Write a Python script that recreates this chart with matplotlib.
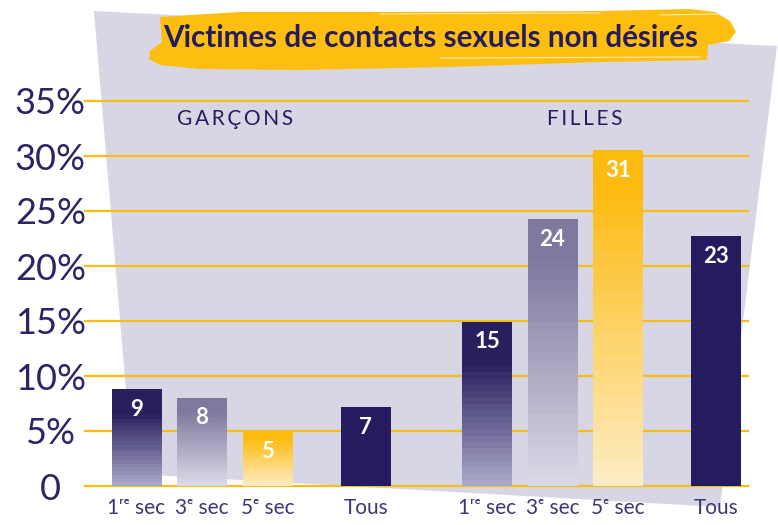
import numpy as np
import matplotlib
matplotlib.use("Agg")
import matplotlib.pyplot as plt
from matplotlib.patches import Polygon
from matplotlib.colors import to_rgb

plt.rcParams['font.family'] = ['Lato', 'DejaVu Sans']

# data
groups = ['GARÇONS', 'FILLES']
group_pos = [1.5, 6.85]
categories = ['1ʳᵉ sec', '3ᵉ sec', '5ᵉ sec', 'Tous',
              '1ʳᵉ sec', '3ᵉ sec', '5ᵉ sec', 'Tous']
positions = [0, 1, 2, 3.5, 5.35, 6.35, 7.35, 8.85]
values = [8.8, 8.0, 4.9, 7.1, 14.9, 24.2, 30.5, 22.7]
labels = ['9', '8', '5', '7', '15', '24', '31', '23']
yticks = [0, 5, 10, 15, 20, 25, 30, 35]
yticklabels = ['0', '5%', '10%', '15%', '20%', '25%', '30%', '35%']

navy = '#241C5E'
gold = '#F9BC10'
# (top colour, bottom colour, solid part at top)
styles = [('#271F5E', '#ADABCA', 0.25), ('#7E799F', '#DCDBE8', 0.15),
          ('#FDBB12', '#FEEDC5', 0.12), (navy, navy, 1.0)] * 2

W, H = 778, 525
fig = plt.figure(figsize=(W / 100, H / 100), dpi=100)

def px(pts):
    return [(x / W, 1 - y / H) for x, y in pts]

# background card
bg = Polygon(px([(94, 11), (777, 46), (720, 507), (133, 474)]),
             closed=True, transform=fig.transFigure, facecolor='#D7D6E5',
             edgecolor='none', zorder=-2)
fig.add_artist(bg)

# yellow brush stroke behind title
brush = Polygon(px([(160, 17), (240, 12), (400, 12), (600, 11), (690, 9),
                    (715, 12), (730, 21), (736, 32), (729, 41), (708, 45),
                    (707, 60), (600, 62), (450, 67), (300, 70), (200, 69),
                    (160, 65), (149, 59), (150, 51), (162, 42)]),
                closed=True, transform=fig.transFigure, facecolor='#FDBE10',
                edgecolor='none', zorder=-1)
fig.add_artist(brush)
for seg in [[(380, 14), (600, 13)], [(660, 15), (720, 14)], [(440, 58), (700, 57)]]:
    p = px(seg)
    fig.add_artist(plt.Line2D([p[0][0], p[1][0]], [p[0][1], p[1][1]],
                              transform=fig.transFigure, color='white',
                              lw=0.8, alpha=0.7, zorder=-0.5))

fig.text(431 / W, 1 - 38 / H, 'Victimes de contacts sexuels non désirés',
         ha='center', va='center', fontsize=21.3, fontweight='bold', color=navy)

ax = fig.add_axes([85 / W, 39 / H, (748 - 85) / W, (486 - 101) / H])
ax.set_facecolor('none')
for s in ax.spines.values():
    s.set_visible(False)

for t in yticks:
    ax.axhline(t, color=gold, lw=1.6, zorder=1, clip_on=False)

bw = 0.76
nb = 26
for x, v, lab, (ctop, cbot, solid) in zip(positions, values, labels, styles):
    a, b = np.array(to_rgb(ctop)), np.array(to_rgb(cbot))
    t = (np.arange(nb) + 0.5) / nb
    f = np.clip((t - solid) / (1 - solid + 1e-9), 0, 1)
    img = a[None, :] * (1 - f[:, None]) + b[None, :] * f[:, None]
    ax.imshow(img[:, None, :], extent=[x - bw / 2, x + bw / 2, 0, v],
              origin='upper', aspect='auto', interpolation='nearest', zorder=2)
    ax.text(x, v - 1.8, lab, ha='center', va='center', color='white',
            fontsize=16, fontweight='bold', zorder=3)

for g, gx in zip(groups, group_pos):
    ax.text(gx, 33.4, '\u2009'.join(g), ha='center', va='center',
            color=navy, fontsize=15)

ax.set_xlim(-0.786, 9.336)
ax.set_ylim(0, 35)
ax.set_xticks(positions, categories)
ax.set_yticks(yticks, yticklabels)
ax.tick_params(axis='x', length=0, pad=9, labelsize=15, labelcolor='#3D3875')
ax.tick_params(axis='y', length=0, pad=25, labelsize=26, labelcolor='#2B2466')
for lbl in ax.get_yticklabels():
    lbl.set_ha('center')

fig.savefig('out.png', dpi=100)
